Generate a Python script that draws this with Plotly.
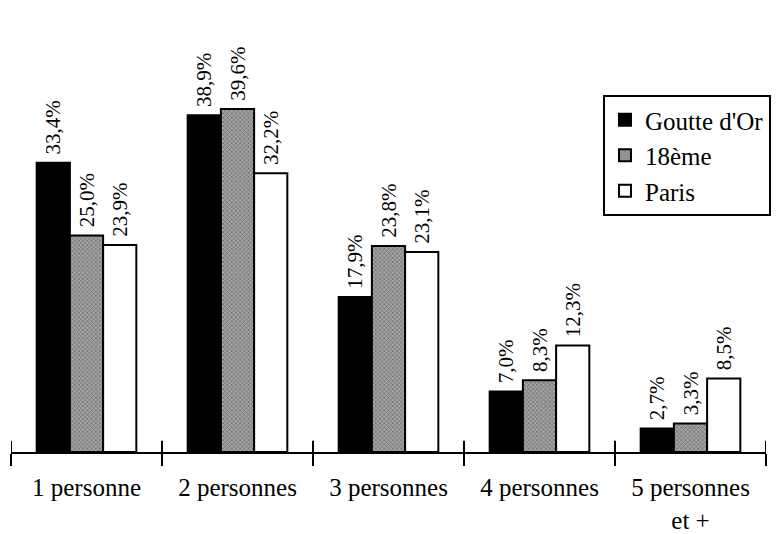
import plotly.graph_objects as go

# Household size categories and share of households (%) per area
categories = ["1 personne", "2 personnes", "3 personnes", "4 personnes", "5 personnes<br>et +"]
goutte_dor = [33.4, 38.9, 17.9, 7.0, 2.7]
dix_huitieme = [25.0, 39.6, 23.8, 8.3, 3.3]
paris = [23.9, 32.2, 23.1, 12.3, 8.5]

FONT = "Liberation Serif"


def fmt(v):
    # French decimal comma; the leading no-break space lifts the label off the bar top
    return "\u00a0" + f"{v:.1f}".replace(".", ",") + "%"


def bar(name, values, color, pattern=None):
    return go.Bar(
        name=name,
        x=categories,
        y=values,
        text=[fmt(v) for v in values],
        textposition="outside",
        textangle=-90,
        constraintext="none",
        cliponaxis=False,
        textfont=dict(family=FONT, size=21, color="black"),
        marker=dict(color=color, line=dict(color="black", width=2), pattern=pattern),
        hoverinfo="skip",
    )


fig = go.Figure()
fig.add_trace(bar("Goutte d'Or", goutte_dor, "black"))
fig.add_trace(bar("18ème", dix_huitieme, "#969696",
                  dict(shape="x", size=3, solidity=0.4, fgcolor="#303030", bgcolor="#a4a4a4")))
fig.add_trace(bar("Paris", paris, "white"))

fig.update_layout(
    width=776,
    height=534,
    margin=dict(l=11, r=10, t=71, b=82, autoexpand=False),
    paper_bgcolor="white",
    plot_bgcolor="white",
    barmode="group",
    bargap=0.34,
    bargroupgap=0,
    font=dict(family=FONT, color="black"),
    showlegend=True,
    legend=dict(
        x=1.0066, xanchor="right", y=0.937, yanchor="top",
        bgcolor="white", bordercolor="black", borderwidth=2,
        font=dict(family=FONT, size=25, color="black"),
        tracegroupgap=0, itemwidth=30,
    ),
    xaxis=dict(
        type="category",
        categoryorder="array", categoryarray=categories,
        range=[-0.5, 4.5],
        automargin=False,
        showline=True, linecolor="black", linewidth=2,
        ticks="outside", tickson="boundaries", ticklen=12, tickwidth=2, tickcolor="black",
        showgrid=False, zeroline=False,
        tickfont=dict(family=FONT, size=25, color="black"),
        ticklabelstandoff=12,
    ),
    yaxis=dict(range=[0, 44], visible=False, showgrid=False, zeroline=False, automargin=False),
)

# upper halves of the category separator ticks, crossing the axis line
for b in range(len(categories) + 1):
    fig.add_shape(type="line", xref="x", yref="y", x0=b - 0.5, x1=b - 0.5, y0=0, y1=1.3,
                  line=dict(color="black", width=2))

fig.write_html("out.html")
